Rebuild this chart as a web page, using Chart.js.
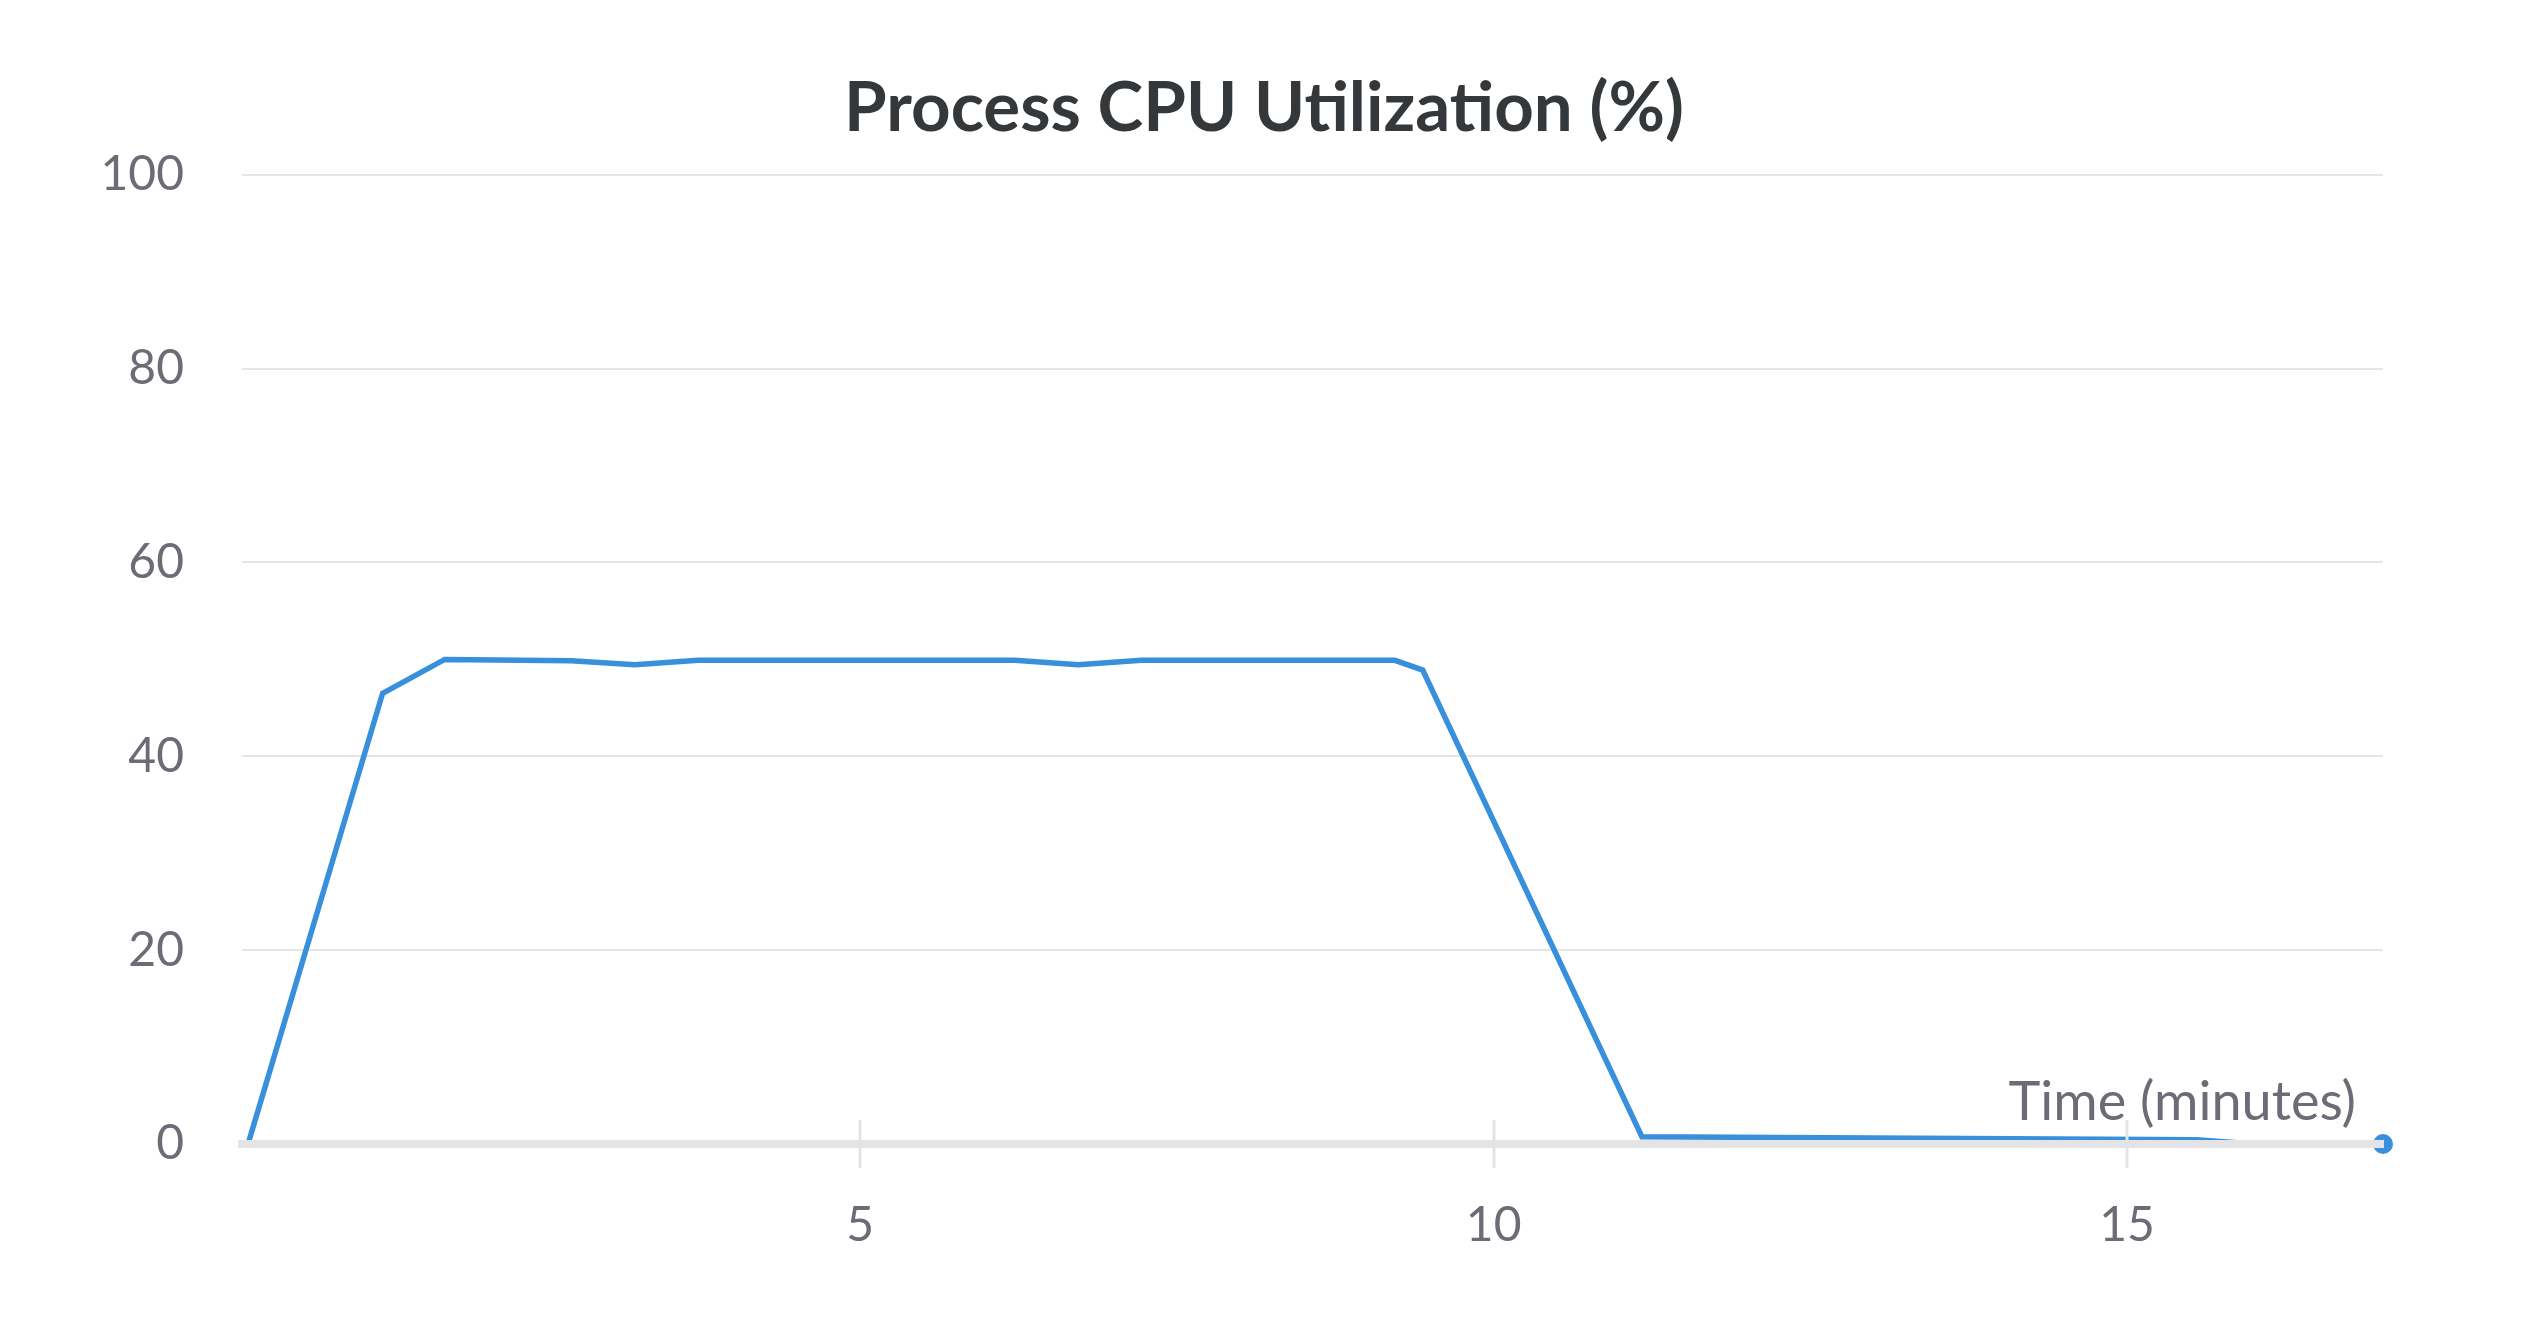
<!DOCTYPE html>
<html>
<head>
<meta charset="utf-8">
<script src="https://cdn.jsdelivr.net/npm/chart.js@4.4.1/dist/chart.umd.min.js"></script>
<style>
  html, body { margin: 0; padding: 0; background: #fff; }
  canvas { display: block; }
</style>
</head>
<body>
<canvas id="cpuChart" width="2528" height="1328"></canvas>
<script>
// values (time in minutes, cpu in %)
const time = [0.12, 0.17, 1.23, 1.72, 2.72, 3.22, 3.72, 6.22, 6.72, 7.22, 9.22, 9.44, 11.17, 15.55, 16.0, 17.02];
const cpu  = [0, 0.1, 46.5, 50, 49.85, 49.45, 49.9, 49.9, 49.45, 49.9, 49.9, 48.9, 0.75, 0.45, 0, 0];
const xTicks = [5, 10, 15];
const yTicks = [0, 20, 40, 60, 80, 100];

const chartTitle = 'Process CPU Utilization (%)';
const xTitle = 'Time (minutes)';

const lineColor = '#3890dc';
const axisGray = '#e4e4e6';
const labelGray = '#6c6c77';

Chart.defaults.font.family = 'Lato';

// short tick marks crossing the x axis + the axis title sitting above it
const axisExtras = {
    id: 'axisExtras',
    afterDraw(chart) {
        const ctx = chart.ctx;
        const xs = chart.scales.x;
        const area = chart.chartArea;
        ctx.save();
        ctx.strokeStyle = axisGray;
        ctx.lineWidth = 3;
        xTicks.forEach(function (v) {
            const px = Math.round(xs.getPixelForValue(v));
            ctx.beginPath();
            ctx.moveTo(px, area.bottom - 24);
            ctx.lineTo(px, area.bottom + 24);
            ctx.stroke();
        });
        ctx.fillStyle = labelGray;
        ctx.font = '54px Lato';
        ctx.textAlign = 'right';
        ctx.textBaseline = 'alphabetic';
        ctx.fillText(xTitle, area.right - 27, area.bottom - 24);
        ctx.restore();
    }
};

const ctx = document.getElementById('cpuChart').getContext('2d');
const chart = new Chart(ctx, {
    type: 'line',
    data: {
        datasets: [{
            label: 'CPU',
            data: time.map((t, i) => ({ x: t, y: cpu[i] })),
            borderColor: lineColor,
            backgroundColor: lineColor,
            borderWidth: 5.5,
            tension: 0,
            fill: false,
            clip: 14,
            pointRadius: (c) => c.dataIndex === cpu.length - 1 ? 10 : 0,
            pointBorderWidth: 0,
            pointBackgroundColor: lineColor
        }]
    },
    options: {
        responsive: false,
        devicePixelRatio: 1,
        animation: false,
        events: [],
        layout: { padding: 0 },
        plugins: {
            legend: { display: false },
            tooltip: { enabled: false },
            title: {
                display: true,
                text: chartTitle,
                color: '#35383b',
                font: { size: 69, weight: 'bold', lineHeight: 1.2 },
                padding: { top: 67, bottom: 25 }
            }
        },
        scales: {
            x: {
                type: 'linear',
                min: time[0],
                max: time[time.length - 1],
                z: 1,
                afterBuildTicks: (scale) => {
                    scale.ticks = xTicks.map(v => ({ value: v }));
                },
                afterFit: (scale) => { scale.height = 184; },
                grid: { display: false, drawTicks: false },
                border: { display: true, color: axisGray, width: 8, z: 1 },
                ticks: {
                    color: labelGray,
                    font: { size: 48 },
                    padding: 53,
                    maxRotation: 0
                }
            },
            y: {
                min: 0,
                max: 100,
                afterBuildTicks: (scale) => {
                    scale.ticks = yTicks.map(v => ({ value: v }));
                },
                afterFit: (scale) => { scale.width = 242; },
                grid: { color: '#e6e6e6', lineWidth: 2, drawTicks: false },
                border: { display: false },
                ticks: {
                    color: labelGray,
                    font: { size: 48 },
                    padding: 58
                }
            },
            // empty right-hand gutter so the title stays centred on the canvas
            gutter: {
                type: 'linear',
                position: 'right',
                min: 0,
                max: 1,
                grid: { display: false, drawTicks: false },
                border: { display: false },
                ticks: { display: false },
                afterFit: (scale) => { scale.width = 145; }
            }
        }
    },
    plugins: [axisExtras]
});
</script>
</body>
</html>
